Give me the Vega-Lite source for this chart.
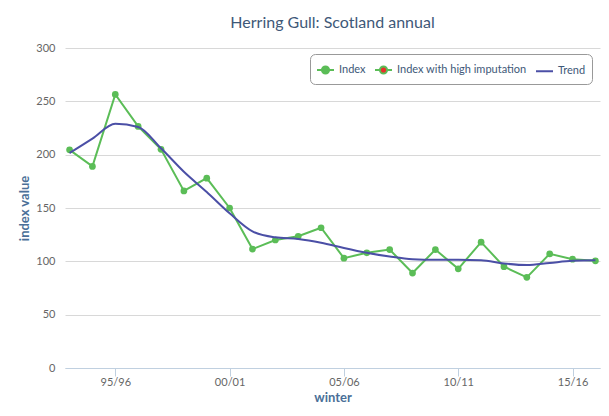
{
  "$schema": "https://vega.github.io/schema/vega-lite/v6.json",
  "width": 609,
  "height": 416,
  "autosize": {"type": "fit", "contains": "padding"},
  "padding": {"left": 18, "top": 15, "right": 9, "bottom": 12},
  "background": "white",
  "title": {"text": "Herring Gull: Scotland annual", "fontSize": 16, "font": "Lato", "fontWeight": "normal", "color": "#3e5878", "offset": 11, "anchor": "middle"},
  "config": {"view": {"stroke": null}, "font": "Lato"},
  "data": {"values": [
    {"year": 1993, "series": "Index", "value": 204.5},
    {"year": 1994, "series": "Index", "value": 189},
    {"year": 1995, "series": "Index", "value": 256.5},
    {"year": 1996, "series": "Index", "value": 226.5},
    {"year": 1997, "series": "Index", "value": 205},
    {"year": 1998, "series": "Index", "value": 166},
    {"year": 1999, "series": "Index", "value": 178},
    {"year": 2000, "series": "Index", "value": 150},
    {"year": 2001, "series": "Index", "value": 111.5},
    {"year": 2002, "series": "Index", "value": 120},
    {"year": 2003, "series": "Index", "value": 123.5},
    {"year": 2004, "series": "Index", "value": 131.5},
    {"year": 2005, "series": "Index", "value": 103},
    {"year": 2006, "series": "Index", "value": 108},
    {"year": 2007, "series": "Index", "value": 111},
    {"year": 2008, "series": "Index", "value": 89},
    {"year": 2009, "series": "Index", "value": 111},
    {"year": 2010, "series": "Index", "value": 93},
    {"year": 2011, "series": "Index", "value": 118},
    {"year": 2012, "series": "Index", "value": 95},
    {"year": 2013, "series": "Index", "value": 85},
    {"year": 2014, "series": "Index", "value": 107},
    {"year": 2015, "series": "Index", "value": 102},
    {"year": 2016, "series": "Index", "value": 100.5},
    {"year": 1993, "series": "Trend", "value": 201.5},
    {"year": 1994, "series": "Trend", "value": 215},
    {"year": 1995, "series": "Trend", "value": 229},
    {"year": 1996, "series": "Trend", "value": 226},
    {"year": 1997, "series": "Trend", "value": 206},
    {"year": 1998, "series": "Trend", "value": 184},
    {"year": 1999, "series": "Trend", "value": 165},
    {"year": 2000, "series": "Trend", "value": 145},
    {"year": 2001, "series": "Trend", "value": 128},
    {"year": 2002, "series": "Trend", "value": 122.5},
    {"year": 2003, "series": "Trend", "value": 121},
    {"year": 2004, "series": "Trend", "value": 117.5},
    {"year": 2005, "series": "Trend", "value": 112.5},
    {"year": 2006, "series": "Trend", "value": 108},
    {"year": 2007, "series": "Trend", "value": 104.5},
    {"year": 2008, "series": "Trend", "value": 102},
    {"year": 2009, "series": "Trend", "value": 101.5},
    {"year": 2010, "series": "Trend", "value": 101.5},
    {"year": 2011, "series": "Trend", "value": 101},
    {"year": 2012, "series": "Trend", "value": 98},
    {"year": 2013, "series": "Trend", "value": 96.5},
    {"year": 2014, "series": "Trend", "value": 98.5},
    {"year": 2015, "series": "Trend", "value": 100.5},
    {"year": 2016, "series": "Trend", "value": 101}
  ]},
  "encoding": {
    "x": {
      "field": "year", "type": "quantitative",
      "scale": {"domain": [1992.8, 2016.2], "nice": false, "zero": false},
      "axis": {
        "values": [1995, 2000, 2005, 2010, 2015],
        "labelExpr": "format(datum.value % 100, '02d') + '/' + format((datum.value + 1) % 100, '02d')",
        "grid": false, "domainColor": "#c0d0e0", "tickColor": "#c0d0e0", "tickSize": 8,
        "labelPadding": 0, "labelColor": "#666666", "labelFontSize": 11,
        "title": "winter", "titleColor": "#4a6f98", "titleFontWeight": "bold", "titleFontSize": 13, "titlePadding": 4
      }
    },
    "y": {
      "field": "value", "type": "quantitative",
      "scale": {"domain": [0, 300], "nice": false},
      "axis": {
        "values": [0, 50, 100, 150, 200, 250, 300],
        "grid": true, "gridColor": "#d8d8d8", "domain": false, "ticks": false,
        "labelColor": "#666666", "labelFontSize": 11, "labelPadding": 10,
        "title": "index value", "titleColor": "#4a6f98", "titleFontWeight": "bold", "titleFontSize": 13, "titlePadding": 4
      }
    }
  },
  "layer": [
    {
      "transform": [{"filter": "datum.series == 'Index'"}],
      "mark": {"type": "line", "color": "#5bbd57", "strokeWidth": 2}
    },
    {
      "transform": [{"filter": "datum.series == 'Index'"}],
      "mark": {"type": "point", "filled": true, "color": "#5bbd57", "size": 45, "opacity": 1}
    },
    {
      "transform": [{"filter": "datum.series == 'Trend'"}],
      "mark": {"type": "line", "color": "#4b4fa6", "strokeWidth": 2, "interpolate": "monotone"}
    },
    {
      "transform": [{"filter": "datum.series == 'Index with high imputation'"}],
      "mark": {"type": "point", "filled": true, "strokeWidth": 2, "opacity": 1},
      "encoding": {
        "fill": {"field": "series", "type": "nominal",
          "scale": {"domain": ["Index", "Index with high imputation", "Trend"], "range": ["#5bbd57", "#e8312a", "transparent"]},
          "legend": {"title": null, "orient": "none", "legendX": 245, "legendY": 6, "direction": "horizontal", "symbolSize": 289, "symbolStrokeWidth": 2, "labelFontSize": 11, "labelColor": "#3e5878", "labelFont": "Lato", "labelOffset": 4, "columnPadding": 5, "padding": 6, "strokeColor": "#999999", "cornerRadius": 5, "fillColor": "white"}},
        "stroke": {"field": "series", "type": "nominal",
          "scale": {"domain": ["Index", "Index with high imputation", "Trend"], "range": ["#5bbd57", "#5bbd57", "#4b4fa6"]},
          "legend": {"title": null, "orient": "none", "legendX": 245, "legendY": 6, "direction": "horizontal", "symbolSize": 289, "symbolStrokeWidth": 2, "labelFontSize": 11, "labelColor": "#3e5878", "labelFont": "Lato", "labelOffset": 4, "columnPadding": 5, "padding": 6, "strokeColor": "#999999", "cornerRadius": 5, "fillColor": "white"}},
        "shape": {"field": "series", "type": "nominal",
          "scale": {"domain": ["Index", "Index with high imputation", "Trend"], "range": ["M-1,0H-0.42M0.42,0H1M-0.42,0A0.42,0.42 0 1,0 0.42,0A0.42,0.42 0 1,0 -0.42,0Z", "M-1,0H-0.42M0.42,0H1M-0.42,0A0.42,0.42 0 1,0 0.42,0A0.42,0.42 0 1,0 -0.42,0Z", "M-1,0H1"]},
          "legend": {"title": null, "orient": "none", "legendX": 245, "legendY": 6, "direction": "horizontal", "symbolSize": 289, "symbolStrokeWidth": 2, "labelFontSize": 11, "labelColor": "#3e5878", "labelFont": "Lato", "labelOffset": 4, "columnPadding": 5, "padding": 6, "strokeColor": "#999999", "cornerRadius": 5, "fillColor": "white"}}
      }
    }
  ]
}
